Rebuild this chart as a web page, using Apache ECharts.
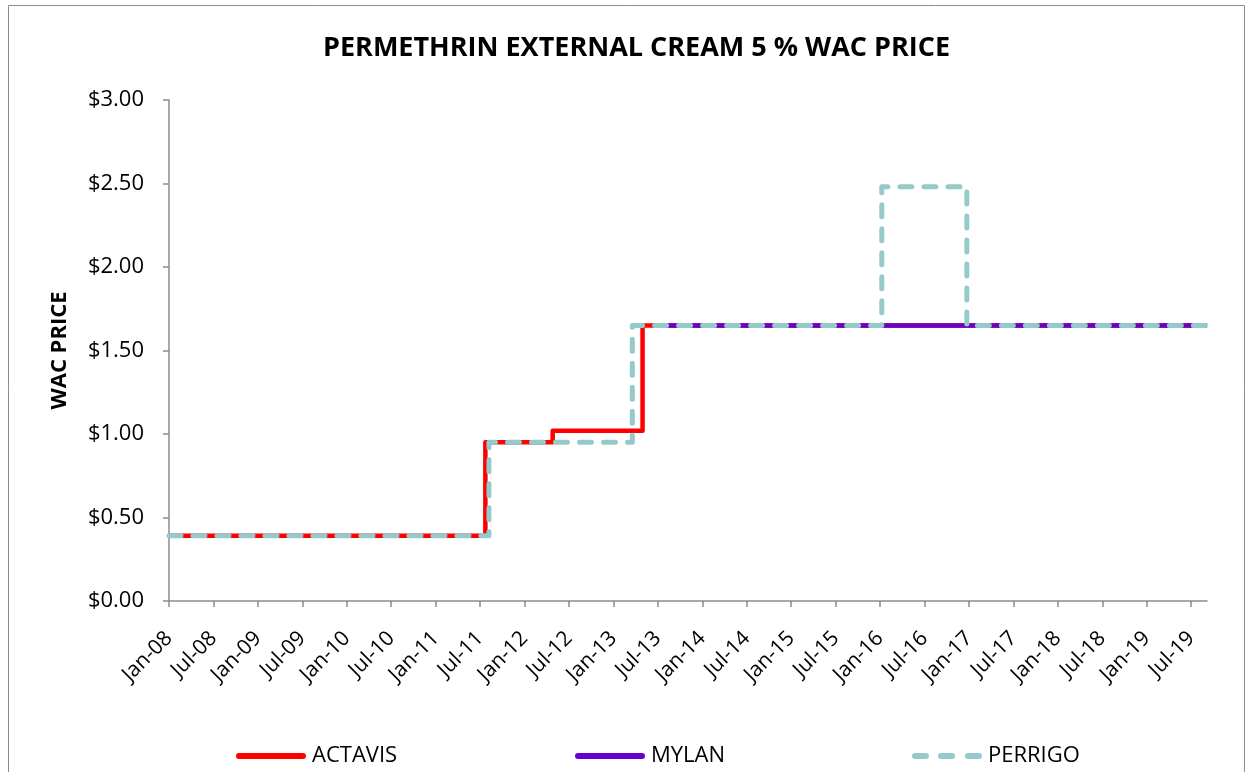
<!DOCTYPE html>
<html><head><meta charset="utf-8">
<script src="https://cdn.jsdelivr.net/npm/echarts@6/dist/echarts.min.js"></script>
<style>html,body{margin:0;padding:0;background:#fff}#c{width:1250px;height:772px}</style>
</head><body><div id="c"></div>
<script>
// ---- data ----
const actavisDates  = ['2008-01-01','2011-07-23','2012-04-25','2013-04-29','2019-09-05'];
const actavisPrices = [0.39, 0.95, 1.02, 1.65, 1.65];
const mylanDates    = ['2013-06-14','2019-09-05'];
const mylanPrices   = [1.65, 1.65];
const perrigoDates  = ['2008-01-01','2011-08-07','2013-03-18','2016-01-08','2016-12-23','2019-09-05'];
const perrigoPrices = [0.39, 0.95, 1.65, 2.48, 1.65, 1.65];
const xTickLabels = ['Jan-08','Jul-08','Jan-09','Jul-09','Jan-10','Jul-10','Jan-11','Jul-11','Jan-12','Jul-12',
  'Jan-13','Jul-13','Jan-14','Jul-14','Jan-15','Jul-15','Jan-16','Jul-16','Jan-17','Jul-17','Jan-18','Jul-18','Jan-19','Jul-19'];
const yTicks = [0, 0.5, 1, 1.5, 2, 2.5, 3];
const seriesNames = ['ACTAVIS','MYLAN','PERRIGO'];
const axisStart = '2008-01-01';
const axisEnd = '2019-09-05';

// ---- build: dates -> months since axis start (equal-width months, like a date axis) ----
const FONT = "'Open Sans', 'Liberation Sans', sans-serif";
function monthsFrom(dateStr){
  const [y,m,d] = dateStr.split('-').map(Number);
  const [y0,m0] = axisStart.split('-').map(Number);
  const dim = new Date(y, m, 0).getDate();
  return (y-y0)*12 + (m-m0) + (d-1)/dim;
}
const monIdx = {Jan:1, Jul:7};
function labelToMonths(l){ const [mo,yy]=l.split('-'); return monthsFrom((2000+ +yy)+'-'+monIdx[mo]+'-1'); }
const tickPos = xTickLabels.map(labelToMonths);
function zip(d,v){ return d.map((x,i)=>[monthsFrom(x), v[i]]); }

const solidIcon = 'path://M3,0 H67 A3,3 0 0 1 67,6 H3 A3,3 0 0 1 3,0 Z';
const dashIcon = 'path://M3,0 H14 A3,3 0 0 1 14,6 H3 A3,3 0 0 1 3,0 Z M29,0 H40 A3,3 0 0 1 40,6 H29 A3,3 0 0 1 29,0 Z M56,0 H67 A3,3 0 0 1 67,6 H56 A3,3 0 0 1 56,0 Z';

const chart = echarts.init(document.getElementById('c'), null, {renderer:'canvas'});
const legendBase = {orient:'horizontal', top:745, padding:0, itemWidth:70, itemHeight:6, itemGap:0,
  textStyle:{fontFamily:FONT, fontSize:22, color:'#000', padding:[0,0,0,1]}};
chart.setOption({
  animation:false,
  backgroundColor:'#fff',
  textStyle:{fontFamily:FONT},
  title:{text:'PERMETHRIN EXTERNAL CREAM 5 % WAC PRICE', left:318, top:30,
    textStyle:{fontFamily:FONT, fontWeight:'bold', fontSize:27, color:'#000'}},
  graphic:[{type:'rect', silent:true, shape:{x:8.5, y:5.5, width:1236, height:820},
    style:{fill:'none', stroke:'#8c8c8c', lineWidth:1}}],
  legend:[
    Object.assign({}, legendBase, {left:236, data:[{name:seriesNames[0], icon:solidIcon}]}),
    Object.assign({}, legendBase, {left:575, data:[{name:seriesNames[1], icon:solidIcon}]}),
    Object.assign({}, legendBase, {left:912, data:[{name:seriesNames[2], icon:dashIcon}]})
  ],
  grid:{left:169, right:43, top:100, bottom:171, containLabel:false},
  xAxis:{type:'value', min:0, max:monthsFrom(axisEnd),
    splitLine:{show:false},
    axisLine:{show:true, lineStyle:{color:'#8c8c8c', width:1.5}},
    axisTick:{show:true, length:6, lineStyle:{color:'#8c8c8c', width:1.5}, customValues:tickPos},
    axisLabel:{customValues:tickPos, rotate:45, margin:34, fontSize:21, color:'#000', fontFamily:FONT,
      formatter:(v)=>{ const i = tickPos.findIndex(t=>Math.abs(t-v)<1e-6); return i>=0 ? xTickLabels[i] : ''; }}},
  yAxis:{type:'value', min:yTicks[0], max:yTicks[yTicks.length-1], interval:0.5,
    name:'WAC PRICE', nameLocation:'middle', nameGap:98, nameRotate:90,
    nameTextStyle:{fontFamily:FONT, fontWeight:'bold', fontSize:22, color:'#000'},
    splitLine:{show:false},
    axisLine:{show:true, lineStyle:{color:'#8c8c8c', width:1.5}},
    axisTick:{show:true, inside:false, length:6, lineStyle:{color:'#8c8c8c', width:1.5}},
    axisLabel:{margin:25, fontSize:22, color:'#000', fontFamily:FONT, formatter:(v)=>'$'+v.toFixed(2)}},
  series:[
    {name:seriesNames[0], type:'line', step:'end', showSymbol:false, symbol:'none',
      data:zip(actavisDates, actavisPrices), color:'#ff0000',
      lineStyle:{color:'#ff0000', width:4.5, join:'round'}},
    {name:seriesNames[1], type:'line', step:'end', showSymbol:false, symbol:'none',
      data:zip(mylanDates, mylanPrices), color:'#6600cc',
      lineStyle:{color:'#6600cc', width:4.5, join:'round'}},
    {name:seriesNames[2], type:'line', step:'end', showSymbol:false, symbol:'none',
      data:zip(perrigoDates, perrigoPrices), color:'#96c9c9',
      lineStyle:{color:'#96c9c9', width:5, type:[12,12], cap:'round', join:'round'}}
  ]
});
</script></body></html>
